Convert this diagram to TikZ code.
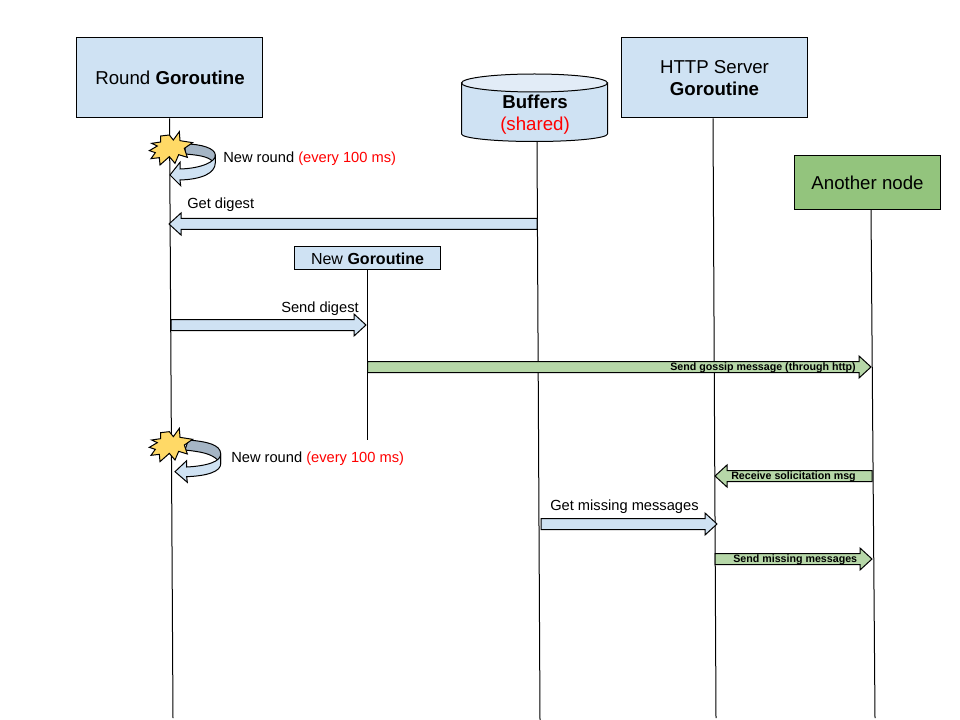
\documentclass[tikz,border=0pt]{standalone}
\usepackage{fontspec}
\setmainfont{Liberation Sans}
\usetikzlibrary{calc}
\definecolor{boxblue}{HTML}{CFE2F3}
\definecolor{toplight}{HTML}{E2ECF7}
\definecolor{boxgreen}{HTML}{93C47D}
\definecolor{arrowgreen}{HTML}{B6D7A8}
\definecolor{burst}{HTML}{FFD966}
\definecolor{darkband}{HTML}{A5B5C5}
\definecolor{redtext}{HTML}{FF0000}
\tikzset{
  px/.style={x=0.75pt,y=-0.75pt},
  lineblack/.style={draw=black,line width=0.75pt,line join=miter},
  lifebox/.style={lineblack,fill=boxblue,inner sep=0pt},
  boxtext/.style={inner sep=0pt,align=center,font=\fontsize{14}{16.5}\selectfont},
  lifeline/.style={draw=black,line width=0.75pt},
  msg/.style={inner sep=0pt,font=\fontsize{11}{13}\selectfont},
  smallmsg/.style={inner sep=0pt,font=\fontsize{8}{9}\selectfont\bfseries},
  zoomed/.style={x=0.25pt,y=-0.25pt},
}
\newcommand{\blockarrow}[3]{%
  \draw[lineblack,fill=#3] let \p1=(#1),\p2=(#2),\n1={ifthenelse(\x2>\x1,1,-1)} in
    (\x1,\y1+4.125pt) -- ({\x2-\n1*9pt},\y1+4.125pt) -- ({\x2-\n1*9pt},\y1+8.25pt)
    -- (\x2,\y1) -- ({\x2-\n1*9pt},\y1-8.25pt) -- ({\x2-\n1*9pt},\y1-4.125pt)
    -- (\x1,\y1-4.125pt) -- cycle;}
\newcommand{\burstshape}{%
  \draw[lineblack,fill=burst] (118,45) -- (130,60) -- (148,35) -- (150,62) -- (188,68) -- (163,85) -- (172,112) -- (146,104) -- (135,130) -- (118,110) -- (90,135) -- (88,113) -- (63,116) -- (76,98) -- (58,92) -- (82,78) -- (65,70) -- (92,66) -- (92,48) -- cycle;}
\begin{document}
\begin{tikzpicture}[px]
\useasboundingbox (0,0) rectangle (960,720);
\fill[white] (0,0) rectangle (960,720);
% cylinder
\draw[lineblack,fill=boxblue] (461.5,83) -- (461.5,134) arc[start angle=180,end angle=0,x radius=73,y radius=7.5] -- (607.5,83) -- cycle;
\draw[lineblack,fill=toplight] (534.5,83) ellipse[x radius=73,y radius=9];
% nodes
\node[lifebox,minimum width=139pt,minimum height=60pt] (round) at (169.5,78) {};
\node[lifebox,minimum width=139.5pt,minimum height=60pt] (http) at (714,78) {};
\node[lifebox,fill=boxgreen,minimum width=109pt,minimum height=40pt] (another) at (867.5,182.5) {};
\node[lifebox,minimum width=109pt,minimum height=17.25pt] (newg) at (367.5,258.5) {};
\node[inner sep=0pt,minimum width=110pt,minimum height=40pt] (buffers) at (537,114.5) {};
\node[boxtext] (roundt) at ($(round)+(0.5,0.3)$) {Round \textbf{Goroutine}};
\node[boxtext] (httpt) at ($(http)+(0.5,0.3)$) {HTTP Server\\\textbf{Goroutine}};
\node[boxtext] (anothert) at ($(another)+(0,0.3)$) {Another node};
\node[boxtext,font=\fontsize{12}{14}\selectfont] (newgt) at ($(newg)+(0,0)$) {New \textbf{Goroutine}};
\node[boxtext] (bufferst) at ($(buffers)+(-2,0.3)$) {\textbf{Buffers}\\\textcolor{redtext}{(shared)}};
% lifeline ends
\coordinate (roundend) at (173,718);
\coordinate (buffersend) at (540,720);
\coordinate (httpend) at (716,718);
\coordinate (anotherend) at (875,718);
\coordinate (newgend) at (367.5,440);
\draw[lifeline] (round.south) -- (roundend);
\draw[lifeline] (buffers.south) -- (buffersend);
\draw[lifeline] (http.south) ++(-1,0) -- (httpend);
\draw[lifeline] (another.south) ++(3.5,0) -- (anotherend);
\draw[lifeline] (newg.south) -- (newgend);
% arrow ends
\coordinate (a1) at (537,224); \coordinate (b1) at (169,224);
\coordinate (a2) at (171,325); \coordinate (b2) at (366,325);
\coordinate (a3) at (367.5,367); \coordinate (b3) at (871,367);
\coordinate (a4) at (872,476); \coordinate (b4) at (715,476);
\coordinate (a5) at (541,524); \coordinate (b5) at (717,524);
\coordinate (a6) at (715,559); \coordinate (b6) at (872,559);
\blockarrow{a1}{b1}{boxblue}
\blockarrow{a2}{b2}{boxblue}
\blockarrow{a3}{b3}{arrowgreen}
\blockarrow{a4}{b4}{arrowgreen}
\blockarrow{a5}{b5}{boxblue}
\blockarrow{a6}{b6}{arrowgreen}
% loops
\begin{scope}[shift={(130,120)},zoomed]
  \draw[lineblack,fill=darkband] (165,72) .. controls (215,72) and (255,85) .. (256,105) -- (256,128) -- (250,126) .. controls (235,108) and (200,105) .. (165,102) -- cycle;
  \draw[lineblack,fill=boxblue] (256,105) .. controls (258,125) and (215,145) .. (150,147) -- (150,127) -- (120,165) -- (152,197) -- (150,180) .. controls (215,178) and (256,160) .. (256,128) -- cycle;
  \burstshape
\end{scope}
\begin{scope}[shift={(130,420)},zoomed]
  \draw[lineblack,fill=darkband] (175,60) .. controls (235,65) and (270,75) .. (272,100) -- (272,130) -- (265,122) .. controls (245,100) and (210,95) .. (165,90) -- cycle;
  \draw[lineblack,fill=boxblue] (272,100) .. controls (275,125) and (230,138) .. (170,141) -- (170,122) -- (135,155) -- (172,187) -- (170,170) .. controls (230,168) and (274,155) .. (272,130) -- cycle;
  \begin{scope}[shift={(0,-10)}]\burstshape\end{scope}
\end{scope}
% labels
\node[msg,anchor=west] (l1) at (223,159) {New round \textcolor{redtext}{(every 100 ms)}};
\node[msg,anchor=west] (l2) at (231,459) {New round \textcolor{redtext}{(every 100 ms)}};
\node[msg,anchor=west] (l3) at (187,205) {Get digest};
\node[msg,anchor=east] (l4) at (359,309) {Send digest};
\node[msg,anchor=west] (l5) at (550,507) {Get missing messages};
\node[smallmsg,anchor=east] (l6) at (856,368) {Send gossip message (through http)};
\node[smallmsg,anchor=west] (l7) at (731,477) {Receive solicitation msg};
\node[smallmsg,anchor=west] (l8) at (733,560) {Send missing messages};
\end{tikzpicture}
\end{document}
